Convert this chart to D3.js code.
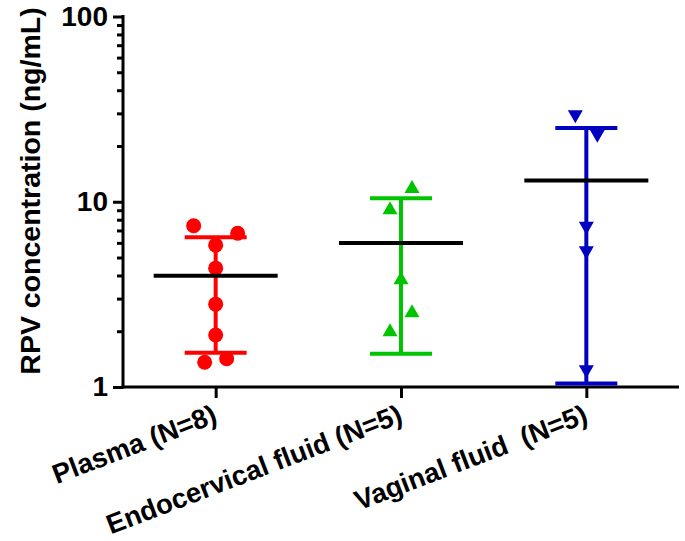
<!DOCTYPE html>
<html>
<head>
<meta charset="utf-8">
<script src="https://cdn.jsdelivr.net/npm/d3@7"></script>
<style>
  html, body { margin: 0; padding: 0; background: #fff; }
  svg { display: block; font-family: "Liberation Sans", Arial, sans-serif; }
  text { font-weight: bold; fill: #000; }
</style>
</head>
<body>
<svg id="chart" width="685" height="541"></svg>
<script>
// Group labels along the x axis
const categories = ["Plasma (N=8)", "Endocervical fluid (N=5)", "Vaginal fluid  (N=5)"];

// RPV concentrations (ng/mL) per sample
const plasmaValues = [7.42, 6.76, 5.83, 4.38, 2.80, 1.91, 1.36, 1.42];
const endocervicalValues = [12.1, 9.29, 3.89, 2.58, 2.04];
const vaginalValues = [28.8, 22.6, 7.2, 5.3, 1.21];

// Side-by-side slot of each point within its column (scatter spread)
const plasmaSpread = [-2, 2, 0, 0, 0, 0, -1, 1];
const endocervicalSpread = [1, -1, 0, 1, -1];
const vaginalSpread = [-1, 1, 0, 0, 0];

// Y axis labelled ticks
const yTickLabels = ["1", "10", "100"];

const groups = [
  { name: categories[0], values: plasmaValues, spread: plasmaSpread, color: "#ff0000", symbol: "circle" },
  { name: categories[1], values: endocervicalValues, spread: endocervicalSpread, color: "#00c400", symbol: "up" },
  { name: categories[2], values: vaginalValues, spread: vaginalSpread, color: "#0000c0", symbol: "down" }
];

const svg = d3.select("#chart");

const plot = { left: 123, right: 679, top: 16.5, bottom: 387 };

const y = d3.scaleLog().domain([1, 100]).range([plot.bottom, plot.top]);
const x = d3.scalePoint().domain(categories).range([plot.left, plot.right]).padding(0.5);

// ---- Y axis (log, with minor ticks) ----
const allTicks = [];
for (let d = 1; d <= 100; d *= 10) {
  for (let m = 1; m < 10; m++) {
    const v = m * d;
    if (v <= 100) allTicks.push(v);
  }
}
const majorSet = new Set(yTickLabels.map(Number));

const yAxis = svg.append("g")
  .attr("transform", `translate(${plot.left},0)`)
  .call(d3.axisLeft(y)
    .tickValues(allTicks)
    .tickSize(10)
    .tickPadding(14)
    .tickFormat(d => majorSet.has(d) ? String(d) : ""));

yAxis.select(".domain")
  .attr("d", `M0,${plot.top - 1.5}V${plot.bottom + 1.5}`)
  .attr("stroke", "#000").attr("stroke-width", 3);
yAxis.selectAll(".tick line")
  .attr("stroke", "#000").attr("stroke-width", 3)
  .attr("x2", d => majorSet.has(d) ? -10 : -6);
yAxis.selectAll(".tick text")
  .attr("font-size", 28)
  .attr("font-weight", "bold")
  .attr("font-family", "Liberation Sans, Arial, sans-serif")
  .attr("fill", "#000")
  .attr("x", -15);

// ---- X axis ----
const xAxis = svg.append("g")
  .attr("transform", `translate(0,${plot.bottom})`)
  .call(d3.axisBottom(x).tickSize(11).tickFormat(""));
xAxis.select(".domain")
  .attr("d", `M${plot.left - 1.5},0H${plot.right}`)
  .attr("stroke", "#000").attr("stroke-width", 3);
xAxis.selectAll(".tick line").attr("stroke", "#000").attr("stroke-width", 3);

// Rotated category labels, ending just right of each tick
svg.append("g").selectAll("text")
  .data(categories)
  .join("text")
  .attr("transform", d => `translate(${x(d) + 3},${plot.bottom + 35}) rotate(-21)`)
  .attr("text-anchor", "end")
  .attr("font-size", 27.5)
  .style("white-space", "pre")
  .text(d => d);

// Y axis title
svg.append("text")
  .attr("transform", "translate(40,191) rotate(-90)")
  .attr("text-anchor", "middle")
  .attr("font-size", 28.5)
  .text("RPV concentration (ng/mL)");

// ---- Points, SD error bars and mean lines ----
const slotWidth = 11;
const symbolPath = (type) => {
  if (type === "up") return "M0,-6.5L7.5,6.5L-7.5,6.5Z";
  if (type === "down") return "M0,6.5L7.5,-6.5L-7.5,-6.5Z";
  return null;
};

groups.forEach(g => {
  const cx = x(g.name);
  const mean = d3.mean(g.values);
  const sd = d3.deviation(g.values);
  const layer = svg.append("g");

  // points
  const pts = layer.selectAll(".pt")
    .data(g.values.map((v, i) => ({ v, s: g.spread[i] })))
    .join(g.symbol === "circle" ? "circle" : "path")
    .attr("fill", g.color);
  if (g.symbol === "circle") {
    pts.attr("cx", d => cx + d.s * slotWidth).attr("cy", d => y(d.v)).attr("r", 7.5);
  } else {
    pts.attr("d", symbolPath(g.symbol))
      .attr("transform", d => `translate(${cx + d.s * slotWidth},${y(d.v)})`);
  }

  // mean ± SD
  const hi = mean + sd, lo = mean - sd;
  layer.append("line")
    .attr("x1", cx).attr("x2", cx).attr("y1", y(hi)).attr("y2", y(lo))
    .attr("stroke", g.color).attr("stroke-width", 4);
  [hi, lo].forEach(v => {
    layer.append("line")
      .attr("x1", cx - 31).attr("x2", cx + 31).attr("y1", y(v)).attr("y2", y(v))
      .attr("stroke", g.color).attr("stroke-width", 4);
  });
  layer.append("line")
    .attr("x1", cx - 62).attr("x2", cx + 62).attr("y1", y(mean)).attr("y2", y(mean))
    .attr("stroke", "#000").attr("stroke-width", 4);
});
</script>
</body>
</html>
